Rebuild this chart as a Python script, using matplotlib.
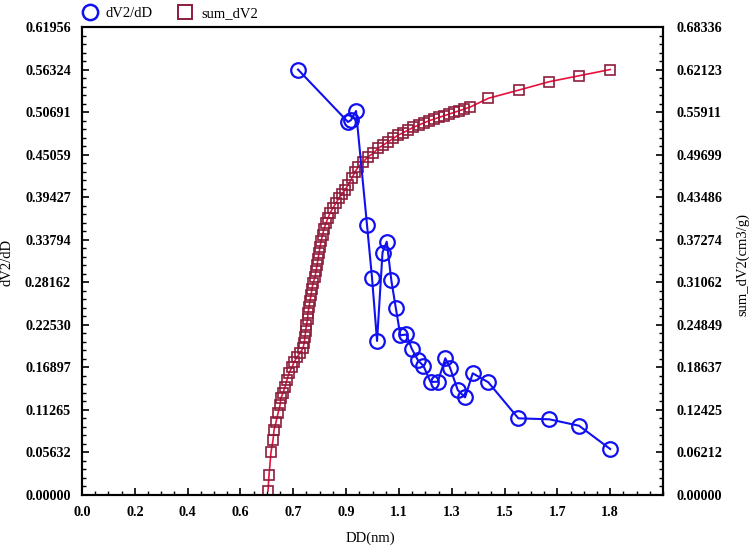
import numpy as np
import matplotlib.pyplot as plt
from matplotlib.lines import Line2D
from matplotlib.ticker import FixedLocator, AutoMinorLocator

# dV2/dD (left axis)
dd_blue = [0.7525, 0.9267, 0.9372, 0.9546, 0.9929, 1.0104, 1.0278, 1.0469, 1.0616,
           1.0776, 1.0929, 1.1090, 1.1299, 1.1487, 1.1706, 1.1891, 1.2142, 1.2396,
           1.2657, 1.2821, 1.3089, 1.3344, 1.3612, 1.4155, 1.5201, 1.6281, 1.7316, 1.84]
dv2_dd = [0.56324, 0.4938, 0.4964, 0.5083, 0.3574, 0.2873, 0.2039, 0.3210, 0.3353,
          0.2842, 0.2482, 0.2114, 0.2125, 0.1937, 0.1781, 0.1712, 0.1496, 0.1500,
          0.1810, 0.1685, 0.1390, 0.1293, 0.1611, 0.1492, 0.1015, 0.1002, 0.0917, 0.0609]

# sum_dV2 (right axis)
dd_red = [0.648, 0.6515, 0.6585, 0.6655, 0.669, 0.676, 0.683, 0.690, 0.693, 0.700,
          0.707, 0.714, 0.721, 0.732, 0.739, 0.749, 0.760, 0.770, 0.774, 0.777,
          0.779, 0.782, 0.786, 0.787, 0.791, 0.794, 0.798, 0.801, 0.805, 0.812,
          0.815, 0.819, 0.822, 0.826, 0.829, 0.833, 0.838, 0.843, 0.850, 0.857,
          0.864, 0.874, 0.885, 0.895, 0.906, 0.916, 0.927, 0.940, 0.951, 0.963,
          0.980, 0.997, 1.015, 1.032, 1.050, 1.067, 1.085, 1.102, 1.119, 1.137,
          1.154, 1.174, 1.192, 1.210, 1.227, 1.245, 1.262, 1.280, 1.297, 1.315,
          1.332, 1.352, 1.416, 1.523, 1.628, 1.733, 1.84]
sum_dv2 = [0.006, 0.0292, 0.0628, 0.0803, 0.0949, 0.1066, 0.1197, 0.1314, 0.1416, 0.1489,
           0.1577, 0.1679, 0.1781, 0.1869, 0.1942, 0.2015, 0.2073, 0.2146, 0.2219, 0.2307,
           0.2395, 0.2482, 0.2570, 0.2658, 0.2745, 0.2833, 0.2920, 0.3008, 0.3096, 0.3183,
           0.3271, 0.3358, 0.3446, 0.3534, 0.3621, 0.3709, 0.3797, 0.3884, 0.3972, 0.4045,
           0.4118, 0.4191, 0.4264, 0.4337, 0.4395, 0.4454, 0.4527, 0.4624, 0.4721, 0.4794,
           0.4867, 0.4940, 0.4990, 0.5063, 0.5111, 0.5159, 0.5209, 0.5257, 0.5290, 0.5330,
           0.5369, 0.5403, 0.5436, 0.5466, 0.5490, 0.5515, 0.5539, 0.5563, 0.5588, 0.5612,
           0.5636, 0.5665, 0.5793, 0.5914, 0.6035, 0.6123, 0.62123]

x_labels = ['0.0', '0.2', '0.4', '0.6', '0.7', '0.9', '1.1', '1.3', '1.5', '1.7', '1.8']
left_labels = ['0.00000', '0.05632', '0.11265', '0.16897', '0.22530', '0.28162',
               '0.33794', '0.39427', '0.45059', '0.50691', '0.56324', '0.61956']
right_labels = ['0.00000', '0.06212', '0.12425', '0.18637', '0.24849', '0.31062',
                '0.37274', '0.43486', '0.49699', '0.55911', '0.62123', '0.68336']

x_max = 2.024
left_max = 0.61956
right_max = 0.68336

tick_font = dict(family='Liberation Serif', weight='bold', size=10.2)
label_font = dict(family='Liberation Serif', size=10.5)

blue = '#1010f0'
red_line = '#e8103a'
red_edge = '#8c1c3c'

fig = plt.figure(figsize=(7.49, 5.5), dpi=100)
ax = fig.add_axes([82 / 749, 1 - 495 / 550, 581 / 749, 468 / 550])
ax2 = ax.twinx()

ax.plot(dd_blue, dv2_dd, color=blue, lw=1.5, marker='o', ms=10.5,
        mfc='none', mec=blue, mew=1.6, zorder=3)
ax2.plot(dd_red, sum_dv2, color=red_line, lw=1.2, marker='s', ms=7,
         mfc='none', mec=red_edge, mew=1.2, zorder=2)
ax.set_zorder(ax2.get_zorder() + 1)
ax.patch.set_visible(False)

ax.set_xlim(0, x_max)
ax.set_ylim(0, left_max)
ax2.set_ylim(0, right_max)

xt = np.arange(len(x_labels)) * x_max / 11
ax.set_xticks(xt)
ax.set_xticklabels(x_labels, **tick_font)
ax.xaxis.set_minor_locator(FixedLocator(np.arange(0, 45) * x_max / 44))

ax.set_yticks(np.linspace(0, left_max, len(left_labels)))
ax.set_yticklabels(left_labels, **tick_font)
ax.yaxis.set_minor_locator(AutoMinorLocator(5))
ax2.set_yticks(np.linspace(0, right_max, len(right_labels)))
ax2.set_yticklabels(right_labels, **tick_font)
ax2.yaxis.set_minor_locator(AutoMinorLocator(5))

ax.tick_params(axis='both', which='major', direction='in', length=5, width=1.2, pad=8)
ax.tick_params(axis='both', which='minor', direction='in', length=3, width=1)
ax2.tick_params(axis='y', which='major', direction='in', length=5, width=1.2, pad=10)
ax2.tick_params(axis='y', which='minor', direction='in', length=3, width=1)

for a in (ax, ax2):
    for s in a.spines.values():
        s.set_linewidth(1.5)

ax.set_xlabel('DD(nm)', **label_font)
ax.set_ylabel('dV2/dD', **label_font)
ax2.set_ylabel('sum_dV2(cm3/g)', **label_font)
ax.xaxis.set_label_coords((370 - 82) / 581, (495 - 532) / 468)
ax.yaxis.set_label_coords((14 - 82) / 581, (495 - 262) / 468)
ax2.yaxis.set_label_coords((736 - 82) / 581, (495 - 265) / 468)

handles = [
    Line2D([], [], ls='none', marker='o', ms=11, mfc='none', mec=blue, mew=1.8),
    Line2D([], [], ls='none', marker='s', ms=10, mfc='none', mec=red_edge, mew=1.4),
]
fig.legend(handles, ['dV2/dD', 'sum_dV2'], loc='upper left',
           bbox_to_anchor=(62 / 749, 1.012), ncol=2, frameon=False,
           handletextpad=0.1, columnspacing=1.2, prop=label_font)

fig.savefig('out.png', dpi=100)
